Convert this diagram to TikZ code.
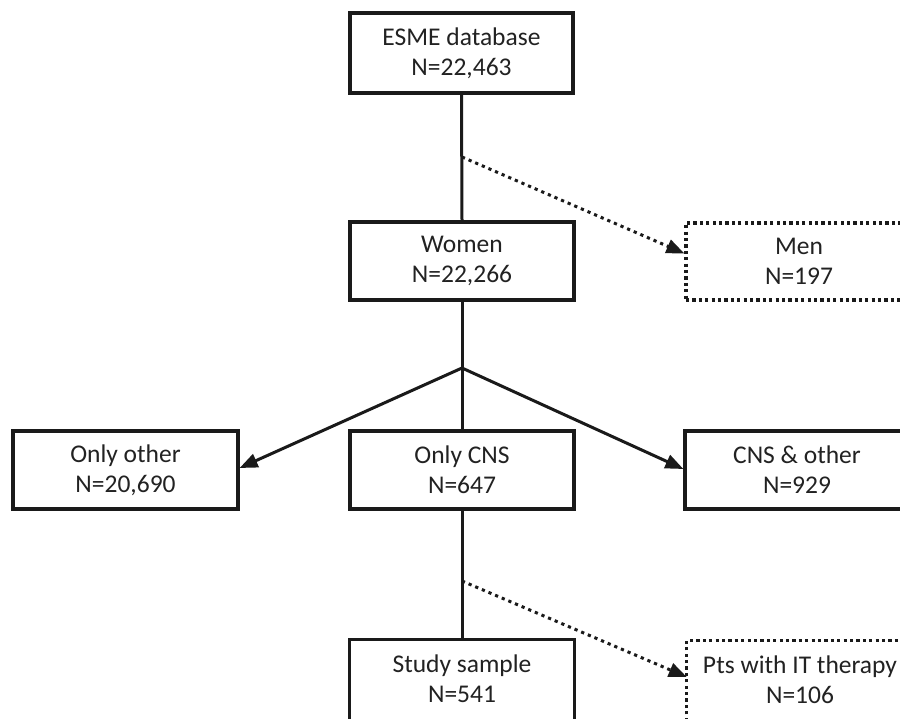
\documentclass[tikz,border=0pt]{standalone}
\usepackage{fontspec}
\setmainfont{Carlito}
\usetikzlibrary{arrows.meta}
\definecolor{ink}{HTML}{1A1A1A}
\definecolor{txt}{HTML}{222222}
\tikzset{
  boxbase/.style={minimum width=224pt, minimum height=78pt, inner sep=0pt, align=center,
    text=txt, font=\fontsize{25.5}{30}\selectfont},
  solidbox/.style={boxbase, draw=ink, line width=3.2pt},
  dotbox/.style={boxbase, draw=ink, line width=3.2pt, dash pattern=on 3.2pt off 3.2pt},
  openbox/.style={boxbase},
  conn/.style={draw=ink, line width=3pt},
  arr/.style={conn, -{Triangle[length=18pt,width=14pt]}},
  dotarr/.style={arr, dash pattern=on 3.2pt off 4pt}
}
\begin{document}
\begin{tikzpicture}[x=1pt,y=-1pt]
\useasboundingbox (0,0) rectangle (900,719);
\clip (0,0) rectangle (900,719);
\fill[white] (0,0) rectangle (900,719);

\node[solidbox, minimum width=223pt, minimum height=80pt] (esme) at (461.5,53) {ESME database\\N=22,463};
\node[solidbox] (women) at (462,261) {Women\\N=22,266};
\node[dotbox, minimum width=226pt, minimum height=77pt] (men) at (799,261.5) {Men\\N=197};
\node[solidbox, minimum width=225pt] (onlyother) at (125.5,470) {Only other\\N=20,690};
\node[solidbox] (onlycns) at (462,470) {Only CNS\\N=647};
\node[solidbox] (cnsother) at (797,470) {CNS \& other\\N=929};
\node[openbox] (study) at (462,679) {Study sample\\N=541};
\node[openbox, minimum width=226pt] (pts) at (800,680) {Pts with IT therapy\\N=106};

% open-bottom boxes of the last row
\draw[draw=ink, line width=3.2pt] ([yshift=-40pt]study.south west) -- (study.north west) -- (study.north east) -- ([yshift=-40pt]study.south east);
\draw[draw=ink, line width=3.2pt, dash pattern=on 3.2pt off 3.2pt] ([yshift=-40pt]pts.south west) -- (pts.north west) -- (pts.north east) -- ([yshift=-40pt]pts.south east);

\coordinate (d1) at (462,157);
\coordinate (br) at (462,368);
\coordinate (d2) at (462,581);

\draw[conn] (esme.south) -- (women.north);
\draw[dotarr] (d1) -- ([yshift=8pt]men.west);
\draw[conn] (women.south) -- (onlycns.north);
\draw[arr] (br) -- ([yshift=2pt]onlyother.east);
\draw[arr] (br) -- ([yshift=1pt]cnsother.west);
\draw[conn] (onlycns.south) -- (study.north);
\draw[dotarr] (d2) -- ([yshift=3pt]pts.west);
\end{tikzpicture}
\end{document}
